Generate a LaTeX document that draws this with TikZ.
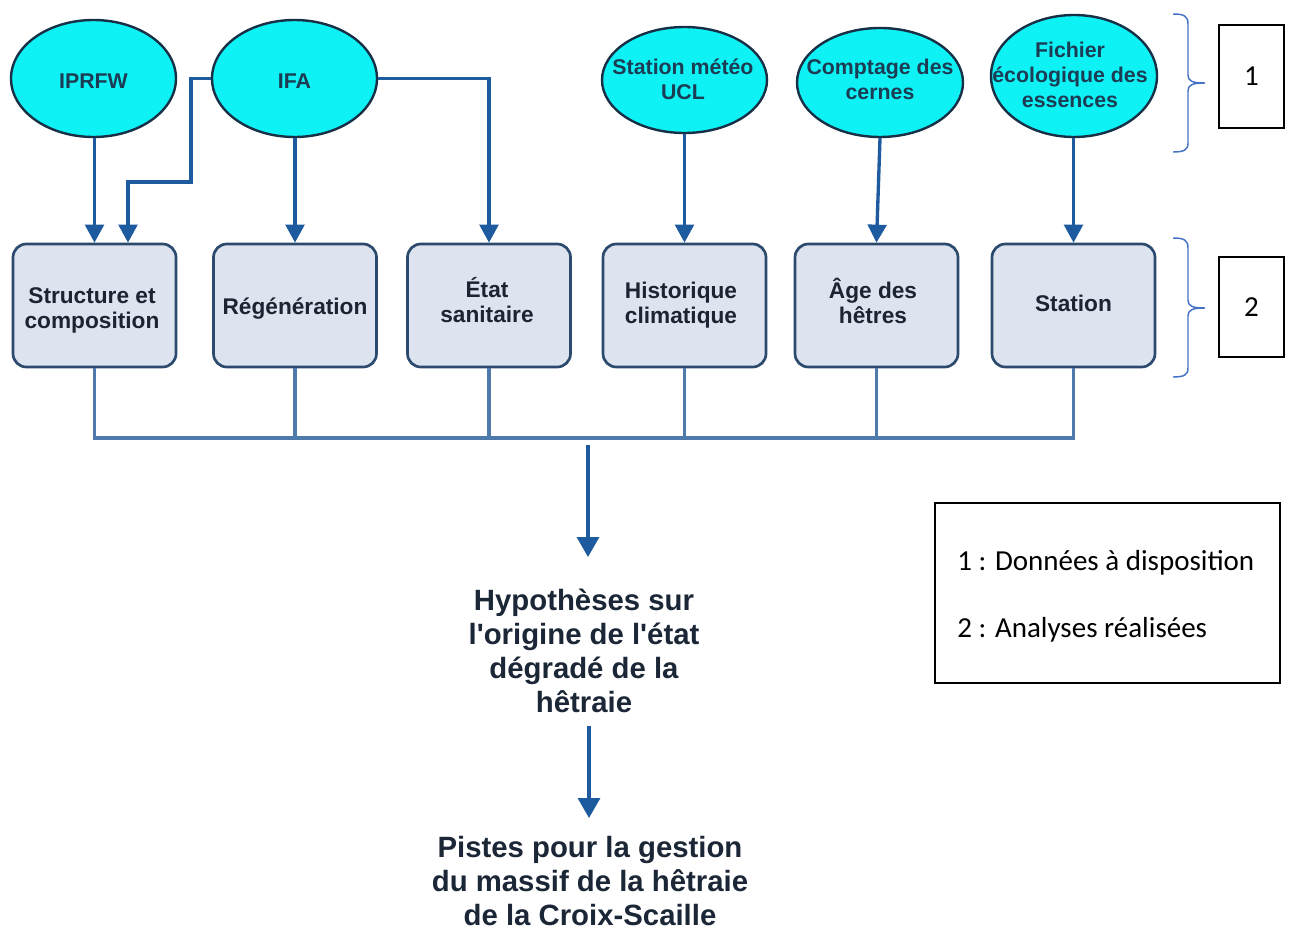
\documentclass[tikz,border=0pt]{standalone}
\usepackage{fontspec}
\setmainfont{Liberation Sans}[Ligatures=TeXOff]
\newfontfamily\calfont{Carlito}
\usetikzlibrary{shapes.geometric,arrows.meta,calc}
\definecolor{cyanfill}{RGB}{14,242,245}
\definecolor{ellborder}{RGB}{24,48,70}
\definecolor{elltext}{RGB}{28,60,84}
\definecolor{boxfill}{RGB}{221,228,239}
\definecolor{boxborder}{RGB}{44,74,110}
\definecolor{boxtext}{RGB}{28,36,52}
\definecolor{arrowblue}{RGB}{30,90,158}
\definecolor{busblue}{RGB}{78,122,172}
\definecolor{braceblue}{RGB}{68,114,196}
\definecolor{restext}{RGB}{27,38,54}
\begin{document}
\begin{tikzpicture}[x=0.75pt,y=-0.75pt,
  src/.style={ellipse, draw=ellborder, line width=1.8pt, fill=cyanfill, inner sep=0pt},
  srctext/.style={text=elltext, font=\bfseries\fontsize{16pt}{18.75pt}\selectfont, align=center, inner sep=0pt},
  ana/.style={rectangle, rounded corners=10pt, draw=boxborder, line width=2pt, fill=boxfill,
    minimum width=122.25pt, minimum height=92.25pt, inner sep=0pt},
  anatext/.style={text=boxtext, font=\bfseries\fontsize{17pt}{18.75pt}\selectfont, align=center, inner sep=0pt},
  arr/.style={draw=arrowblue, line width=2.5pt, -{Triangle[width=14pt,length=13.5pt,fill=arrowblue]}},
  bigarr/.style={draw=arrowblue, line width=2.5pt, -{Triangle[width=16.5pt,length=15pt,fill=arrowblue]}},
  bus/.style={draw=busblue, line width=2.4pt},
  res/.style={text=restext, font=\bfseries\fontsize{22pt}{25.5pt}\selectfont, align=center, inner sep=0pt},
  brace/.style={draw=braceblue, line width=1.1pt},
  numbox/.style={rectangle, draw=black, line width=0.9pt, inner sep=0pt, font=\calfont\fontsize{21.75pt}{26pt}\selectfont},
  legtext/.style={font=\calfont\fontsize{21.75pt}{26pt}\selectfont, inner sep=0pt}
]
\useasboundingbox (0,0) rectangle (1292,931);

% source ellipses
\node[src, minimum width=123.75pt, minimum height=87.75pt] (iprfw) at (93.5,78.5) {};
\node[src, minimum width=123.75pt, minimum height=87.75pt] (ifa) at (294.5,78.5) {};
\node[src, minimum width=123.75pt, minimum height=79.5pt] (met) at (684.5,80) {};
\node[src, minimum width=124.5pt, minimum height=81.75pt] (comp) at (880,82.5) {};
\node[src, minimum width=124.5pt, minimum height=91.5pt] (fich) at (1074,76) {};
\node[srctext] (iprfw-t) at (93.5,81) {IPRFW};
\node[srctext] (ifa-t) at (294.5,81) {IFA};
\node[srctext] (met-t) at (683,79) {Station météo\\UCL};
\node[srctext] (comp-t) at (880,79) {Comptage des\\cernes};
\node[srctext] (fich-t) at (1070,75) {Fichier\\écologique des\\essences};

% analysis boxes
\node[ana] (struct) at (94.5,305.5) {};
\node[ana] (regen) at (295,305.5) {};
\node[ana] (etat) at (489,305.5) {};
\node[ana] (hist) at (684.5,305.5) {};
\node[ana] (age) at (876.5,305.5) {};
\node[ana] (stat) at (1073.5,305.5) {};
\node[anatext] (struct-t) at (92,310) {Structure et\\composition};
\node[anatext] (regen-t) at (295,309) {Régénération};
\node[anatext] (etat-t) at (487,300) {État\\sanitaire};
\node[anatext] (hist-t) at (681,305.5) {Historique\\climatique};
\node[anatext] (age-t) at (873,301) {Âge des\\hêtres};
\node[anatext] (stat-t) at (1073.5,303.5) {Station};

% arrows from sources to analyses
\coordinate (k1) at (191,182);
\draw[arr] (iprfw.south -| struct.north) -- (struct.north);
\draw[arr] (ifa.west) -| (k1) -| ($(struct.north)+(33.5,0)$);
\draw[arr] (ifa.south -| regen.north) -- (regen.north);
\draw[arr] (ifa.east) -| (etat.north);
\draw[arr] (met.south -| hist.north) -- (hist.north);
\draw[arr] (comp.south) -- (age.north);
\draw[arr] (fich.south -| stat.north) -- (stat.north);

% collecting bus
\coordinate (busy) at (0,438);
\draw[bus] (struct.south) -- (struct.south |- busy) -- (stat.south |- busy) -- (stat.south);
\draw[bus] (regen.south) -- (regen.south |- busy);
\draw[bus] (etat.south) -- (etat.south |- busy);
\draw[bus] (hist.south) -- (hist.south |- busy);
\draw[bus] (age.south) -- (age.south |- busy);

% results
\node[res, anchor=north] (hyp) at (584,589) {Hypothèses sur\\l'origine de l'état\\dégradé de la\\hêtraie};
\node[res, anchor=north] (pistes) at (590,836) {Pistes pour la gestion\\du massif de la hêtraie\\de la Croix-Scaille};
\coordinate (busout) at (588,445);
\draw[bigarr, shorten >=24pt] (busout) -- (busout |- hyp.north);
\draw[bigarr, shorten <=9.75pt, shorten >=13.5pt] ($(hyp.south)+(5,0)$) -- ($(hyp.south |- pistes.north)+(5,0)$);

% braces
\draw[brace] (1173,14) .. controls (1184,14) and (1188,16) .. (1188,24) -- (1188,75)
  .. controls (1188,81) and (1192,83) .. (1205,83)
  .. controls (1192,83) and (1188,85) .. (1188,91) -- (1188,143)
  .. controls (1188,150) and (1184,152) .. (1173,152);
\draw[brace] (1173,238) .. controls (1184,238) and (1188,240) .. (1188,248) -- (1188,300)
  .. controls (1188,306) and (1192,308) .. (1205,308)
  .. controls (1192,308) and (1188,310) .. (1188,316) -- (1188,368)
  .. controls (1188,375) and (1184,377) .. (1173,377);

% number boxes
\node[numbox, minimum width=48.75pt, minimum height=77.25pt] (n1) at (1251.5,76.5) {1};
\node[numbox, minimum width=48.75pt, minimum height=75pt] (n2) at (1251.5,307) {2};

% legend
\node[draw=black, line width=0.9pt, minimum width=258.75pt, minimum height=135pt, inner sep=0pt] (leg) at (1107.5,593) {};
\node[legtext, anchor=base west] (leg1) at (957,570) {1 : Données à disposition};
\node[legtext, anchor=base west] (leg2) at (957,637) {2 : Analyses réalisées};
\end{tikzpicture}
\end{document}
